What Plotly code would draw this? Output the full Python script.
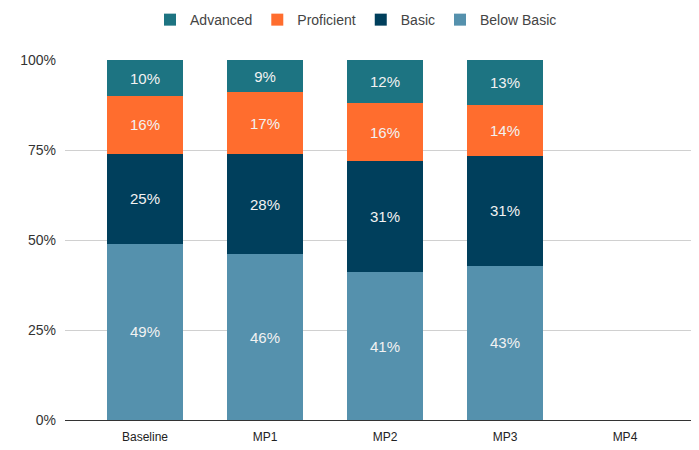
import plotly.graph_objects as go

categories = ["Baseline", "MP1", "MP2", "MP3", "MP4"]
below_basic = [49, 46, 41, 42.8, None]
basic = [25, 28, 31, 30.6, None]
proficient = [16, 17, 16, 14.0, None]
advanced = [10, 9, 12, 12.6, None]

y_ticks = [0, 25, 50, 75, 100]
y_tick_labels = ["0%", "25%", "50%", "75%", "100%"]

series = [
    ("Below Basic", below_basic, "#5591ad"),
    ("Basic", basic, "#003f5c"),
    ("Proficient", proficient, "#ff6d2e"),
    ("Advanced", advanced, "#1d7482"),
]

fig = go.Figure()
for name, vals, color in series:
    fig.add_trace(go.Bar(
        x=categories,
        y=vals,
        name=name,
        marker=dict(color=color, line=dict(width=0)),
        width=0.64,
        texttemplate="%{y:.0f}%",
        textposition="inside",
        insidetextanchor="middle",
        textfont=dict(color="#f2f2f2", size=15, family="Liberation Sans, Arial"),
        hoverinfo="skip",
    ))

# page has an 8px body margin, so the figure is sized to fit inside it
fig.update_layout(
    width=691,
    height=442,
    barmode="stack",
    plot_bgcolor="white",
    paper_bgcolor="white",
    margin=dict(l=57, r=0, t=52, b=30, autoexpand=False),
    font=dict(family="Liberation Sans, Arial", size=14, color="#333333"),
    legend=dict(
        orientation="h",
        traceorder="reversed",
        x=0.459,
        xanchor="center",
        y=1.111,
        yanchor="middle",
        font=dict(size=14, color="#444444"),
    ),
    xaxis=dict(
        range=[-0.667, 4.617],
        showgrid=False,
        ticks="",
        tickfont=dict(size=12, color="#222222"),
        ticklabelstandoff=8,
    ),
    yaxis=dict(
        range=[0, 100],
        tickmode="array",
        tickvals=y_ticks,
        ticktext=y_tick_labels,
        showgrid=True,
        gridcolor="#d0d0d0",
        gridwidth=1,
        zeroline=True,
        zerolinecolor="#333333",
        zerolinewidth=1,
        tickfont=dict(size=14, color="#333333"),
        ticks="",
        ticklabelstandoff=8,
    ),
)

fig.write_html("out.html")
